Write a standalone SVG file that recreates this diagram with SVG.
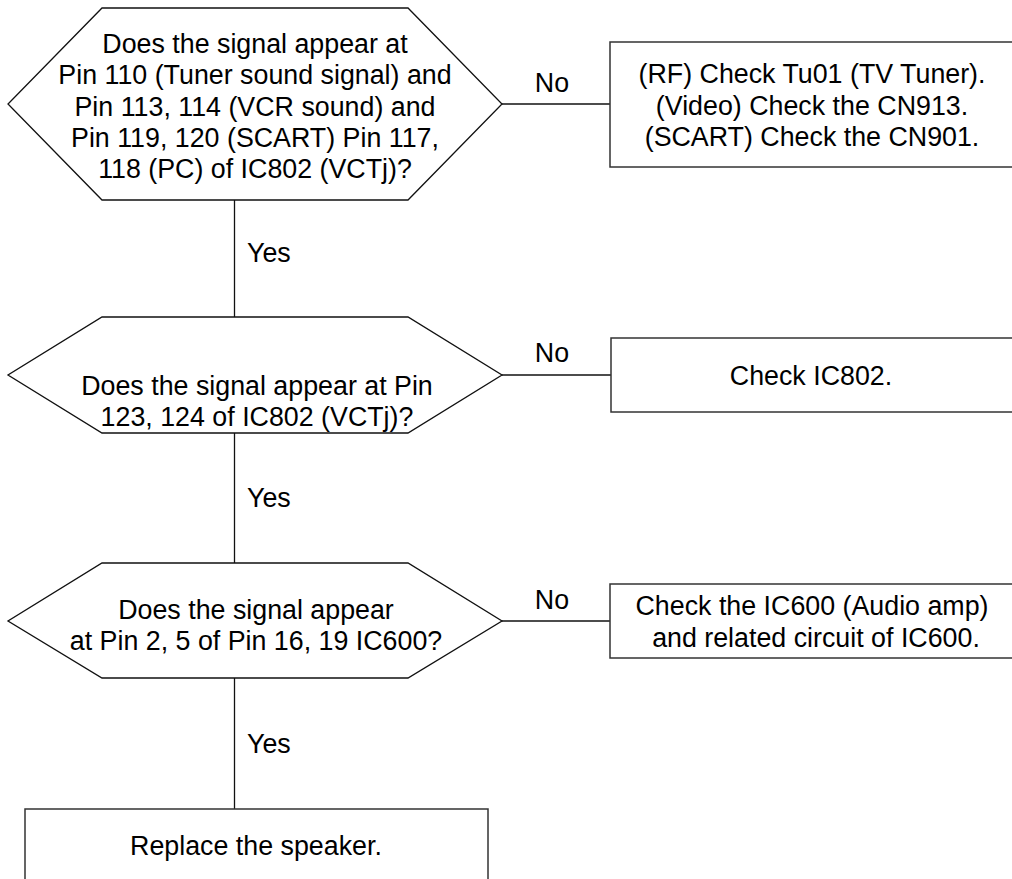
<svg xmlns="http://www.w3.org/2000/svg" width="1012" height="879" viewBox="0 0 1012 879">
<style>
.shape{fill:#fff;stroke:#111;stroke-width:1.3}
.box{fill:#fff;stroke:#333;stroke-width:1.5}
.edge{fill:none;stroke:#111;stroke-width:1.3}
text{font-family:"Liberation Sans",Arial,sans-serif;font-size:26.8px;fill:#000}
.c{text-anchor:middle}
</style>
<rect width="1012" height="879" fill="#fff"/>
<g id="connectors">
<line class="edge" x1="234.5" y1="200" x2="234.5" y2="317"/>
<line class="edge" x1="234.5" y1="433" x2="234.5" y2="563"/>
<line class="edge" x1="234.5" y1="678" x2="234.5" y2="809"/>
<line class="edge" x1="502" y1="104" x2="610" y2="104"/>
<line class="edge" x1="502" y1="375" x2="611" y2="375"/>
<line class="edge" x1="502" y1="621" x2="610" y2="621"/>
<text x="247" y="262">Yes</text>
<text x="247" y="507">Yes</text>
<text x="247" y="753">Yes</text>
<text class="c" x="552" y="92">No</text>
<text class="c" x="552" y="362">No</text>
<text class="c" x="552" y="609">No</text>
</g>
<g id="d1">
<polygon class="shape" points="102,8 408,8 502,104 408,200 102,200 8,104"/>
<text class="c" x="255" y="53">Does the signal appear at</text>
<text class="c" x="255" y="84">Pin 110 (Tuner sound signal) and</text>
<text class="c" x="255" y="116">Pin 113, 114 (VCR sound) and</text>
<text class="c" x="255" y="147">Pin 119, 120 (SCART) Pin 117,</text>
<text class="c" x="255" y="178">118 (PC) of IC802 (VCTj)?</text>
</g>
<g id="d2">
<polygon class="shape" points="102,317 408,317 502,375 408,433 102,433 8,375"/>
<text class="c" x="257" y="395">Does the signal appear at Pin</text>
<text class="c" x="257" y="426">123, 124 of IC802 (VCTj)?</text>
</g>
<g id="d3">
<polygon class="shape" points="102,563 408,563 502,621 408,678 102,678 8,621"/>
<text class="c" x="256" y="619">Does the signal appear</text>
<text class="c" x="256" y="650">at Pin 2, 5 of Pin 16, 19 IC600?</text>
</g>
<g id="b1">
<rect class="box" x="610" y="42" width="410" height="125"/>
<text class="c" x="812" y="83">(RF) Check Tu01 (TV Tuner).</text>
<text class="c" x="812" y="115">(Video) Check the CN913.</text>
<text class="c" x="812" y="146">(SCART) Check the CN901.</text>
</g>
<g id="b2">
<rect class="box" x="611" y="338" width="410" height="74"/>
<text class="c" x="811" y="385">Check IC802.</text>
</g>
<g id="b3">
<rect class="box" x="610" y="584" width="410" height="74"/>
<text class="c" x="812" y="615">Check the IC600 (Audio amp)</text>
<text class="c" x="816" y="647">and related circuit of IC600.</text>
</g>
<g id="b4">
<rect class="box" x="25" y="809" width="463" height="90"/>
<text class="c" x="256" y="855">Replace the speaker.</text>
</g>
</svg>
